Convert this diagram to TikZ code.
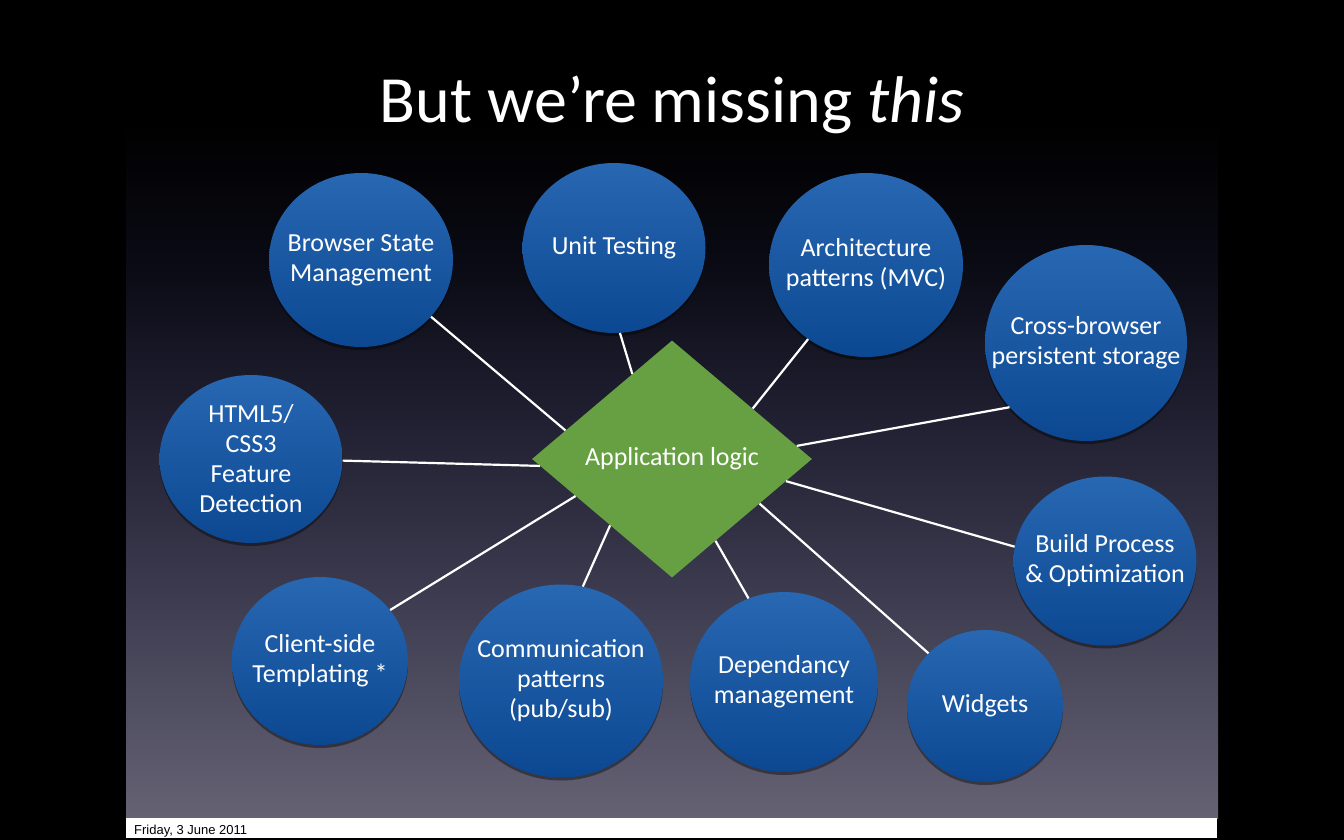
\documentclass[tikz,border=0pt]{standalone}
\usepackage{fontspec}
\setmainfont{Carlito}
\newfontfamily\footfont{Liberation Sans}
\usetikzlibrary{shapes.geometric,shadows}

\definecolor{bubbletop}{RGB}{40,103,178}
\definecolor{bubblebot}{RGB}{12,72,146}
\definecolor{logicgreen}{RGB}{103,160,67}
\definecolor{bgA}{RGB}{0,0,0}
\definecolor{bgB}{RGB}{10,10,20}
\definecolor{bgC}{RGB}{32,32,50}
\definecolor{bgD}{RGB}{62,60,80}
\definecolor{bgE}{RGB}{100,98,115}

\tikzset{
  bubbletext/.style={text=white, align=center, inner sep=0pt,
    font=\fontsize{26}{30}\selectfont},
  bubble/.style={ellipse, draw=none, inner sep=0pt,
    top color=bubbletop, bottom color=bubblebot,
    drop shadow={shadow xshift=0pt, shadow yshift=-3pt, opacity=0.4, fill=black},
    label={[bubbletext]center:#1}},
  logic/.style={diamond, fill=logicgreen, inner sep=0pt, text=white,
    font=\fontsize{26}{30}\selectfont},
  link/.style={draw=white, line width=2.2pt},
  headline/.style={text=white, inner sep=0pt, anchor=base,
    font=\fontsize{66}{78}\selectfont},
  footer/.style={text=black, inner sep=0pt, anchor=base west,
    font=\footfont\fontsize{13}{15}\selectfont}
}

\begin{document}
\begin{tikzpicture}[x=1pt,y=-1pt]
  \useasboundingbox (0,0) rectangle (1344,840);
  % black surround
  \fill[black] (0,0) rectangle (1344,840);
  % slide background: black at the top fading to grey-violet
  \fill[bgA] (126,0) rectangle (1218,121);
  \shade[top color=bgA, bottom color=bgB] (126,120) rectangle (1218,261);
  \shade[top color=bgB, bottom color=bgC] (126,260) rectangle (1218,421);
  \shade[top color=bgC, bottom color=bgD] (126,420) rectangle (1218,601);
  \shade[top color=bgD, bottom color=bgE] (126,600) rectangle (1218,818);
  % footer strip
  \fill[white] (126,818) rectangle (1217,838);
  \node[footer] (date) at (134,834) {Friday, 3 June 2011};

  % title
  \node[headline] (title) at (672,123) {But we’re missing \textit{this}};

  % central diamond
  \node[logic, minimum width=280, minimum height=237] (app) at (672,459) {Application logic};

  % surrounding topics
  \node[bubble={Browser State\\Management}, minimum width=184, minimum height=174] (bsm) at (361,260) {};
  \node[bubble={Unit Testing}, minimum width=183, minimum height=170] (ut) at (614,248) {};
  \node[bubble={Architecture\\patterns (MVC)}, minimum width=194, minimum height=184] (arch) at (866,265) {};
  \node[bubble={Cross-browser\\persistent storage}, minimum width=202, minimum height=196] (cbs) at (1086,343) {};
  \node[bubble={HTML5/\\CSS3\\Feature\\Detection}, minimum width=183, minimum height=168] (html) at (251,459) {};
  \node[bubble={Build Process\\\& Optimization}, minimum width=183, minimum height=169] (build) at (1105,561) {};
  \node[bubble={Widgets}, minimum width=156, minimum height=152] (widg) at (985,706) {};
  \node[bubble={Dependancy\\management}, minimum width=188, minimum height=180] (dep) at (784,682) {};
  \node[bubble={Communication\\patterns\\(pub/sub)}, minimum width=204, minimum height=193] (comm) at (561,681) {};
  \node[bubble={Client-side\\Templating *}, minimum width=176, minimum height=168] (cst) at (320,661) {};

  % connectors
  \draw[link] (bsm.-39) -- (app.165);
  \draw[link] (ut.-86) -- (app.115);
  \draw[link] (arch.-128) -- (app.32);
  \draw[link] (cbs.-140) -- (app.6);
  \draw[link] (html.-1) -- (app.-177);
  \draw[link] (build.171) -- (app.-11);
  \draw[link] (widg.137) -- (app.-27);
  \draw[link] (dep.113) -- (app.-62);
  \draw[link] (comm.77) -- (app.-133);
  \draw[link] (cst.36) -- (app.-159);
\end{tikzpicture}
\end{document}
